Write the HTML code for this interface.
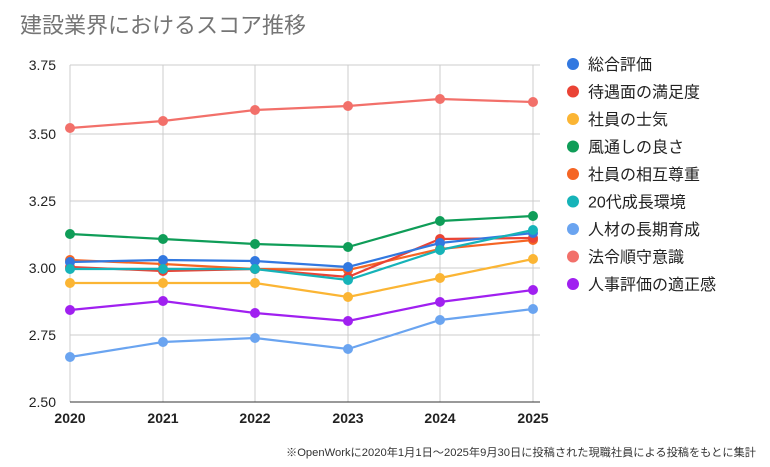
<!DOCTYPE html><html><head><meta charset="utf-8"><style>body{margin:0;background:#fff}svg{display:block}text{font-family:"Liberation Sans","Noto Sans CJK JP",sans-serif}</style></head><body>
<svg width="770" height="467" viewBox="0 0 770 467">
<text x="20" y="33" font-size="22" fill="#757575">建設業界におけるスコア推移</text>
<g stroke="#ccc" stroke-width="1">
<line x1="70" y1="65" x2="540" y2="65"/><line x1="70" y1="134" x2="540" y2="134"/><line x1="70" y1="201" x2="540" y2="201"/><line x1="70" y1="268" x2="540" y2="268"/><line x1="70" y1="335" x2="540" y2="335"/>
<line x1="70" y1="65" x2="70" y2="402"/><line x1="163" y1="65" x2="163" y2="402"/><line x1="255" y1="65" x2="255" y2="402"/><line x1="348" y1="65" x2="348" y2="402"/><line x1="440" y1="65" x2="440" y2="402"/><line x1="533" y1="65" x2="533" y2="402"/>
</g>
<line x1="70" y1="402" x2="540" y2="402" stroke="#333" stroke-width="1"/>
<g font-size="14" fill="#222" text-anchor="end"><text x="56" y="70">3.75</text><text x="56" y="139">3.50</text><text x="56" y="206">3.25</text><text x="56" y="273">3.00</text><text x="56" y="340">2.75</text><text x="56" y="407">2.50</text></g>
<g font-size="14" fill="#222" text-anchor="middle" font-weight="bold"><text x="70" y="423">2020</text><text x="163" y="423">2021</text><text x="255" y="423">2022</text><text x="348" y="423">2023</text><text x="440" y="423">2024</text><text x="533" y="423">2025</text></g>
<g fill="none" stroke-width="2.2">
<polyline stroke="#f2706a" points="70,128 163,121 255,110 348,106 440,99 533,102"/>
<polyline stroke="#6aa4f0" points="70,357 163,342 255,338 348,349 440,320 533,309"/>
<polyline stroke="#a020f0" points="70,310 163,301 255,313 348,321 440,302 533,290"/>
<polyline stroke="#fbb534" points="70,283 163,283 255,283 348,297 440,278 533,259"/>
<polyline stroke="#0f9d58" points="70,234 163,239 255,244 348,247 440,221 533,216"/>
<polyline stroke="#f56524" points="70,260 163,264 255,269 348,270 440,249 533,240"/>
<polyline stroke="#ea4335" points="70,267 163,271 255,269 348,277 440,239 533,238"/>
<polyline stroke="#3278e0" points="70,262 163,260 255,261 348,267 440,243 533,233"/>
<polyline stroke="#16b3b8" points="70,269 163,269 255,269 348,280 440,250 533,230"/>
</g>
<g fill="#f2706a"><circle cx="70" cy="128" r="5"/><circle cx="163" cy="121" r="5"/><circle cx="255" cy="110" r="5"/><circle cx="348" cy="106" r="5"/><circle cx="440" cy="99" r="5"/><circle cx="533" cy="102" r="5"/></g>
<g fill="#6aa4f0"><circle cx="70" cy="357" r="5"/><circle cx="163" cy="342" r="5"/><circle cx="255" cy="338" r="5"/><circle cx="348" cy="349" r="5"/><circle cx="440" cy="320" r="5"/><circle cx="533" cy="309" r="5"/></g>
<g fill="#a020f0"><circle cx="70" cy="310" r="5"/><circle cx="163" cy="301" r="5"/><circle cx="255" cy="313" r="5"/><circle cx="348" cy="321" r="5"/><circle cx="440" cy="302" r="5"/><circle cx="533" cy="290" r="5"/></g>
<g fill="#fbb534"><circle cx="70" cy="283" r="5"/><circle cx="163" cy="283" r="5"/><circle cx="255" cy="283" r="5"/><circle cx="348" cy="297" r="5"/><circle cx="440" cy="278" r="5"/><circle cx="533" cy="259" r="5"/></g>
<g fill="#0f9d58"><circle cx="70" cy="234" r="5"/><circle cx="163" cy="239" r="5"/><circle cx="255" cy="244" r="5"/><circle cx="348" cy="247" r="5"/><circle cx="440" cy="221" r="5"/><circle cx="533" cy="216" r="5"/></g>
<g fill="#f56524"><circle cx="70" cy="260" r="5"/><circle cx="163" cy="264" r="5"/><circle cx="255" cy="269" r="5"/><circle cx="348" cy="270" r="5"/><circle cx="440" cy="249" r="5"/><circle cx="533" cy="240" r="5"/></g>
<g fill="#ea4335"><circle cx="70" cy="267" r="5"/><circle cx="163" cy="271" r="5"/><circle cx="255" cy="269" r="5"/><circle cx="348" cy="277" r="5"/><circle cx="440" cy="239" r="5"/><circle cx="533" cy="238" r="5"/></g>
<g fill="#3278e0"><circle cx="70" cy="262" r="5"/><circle cx="163" cy="260" r="5"/><circle cx="255" cy="261" r="5"/><circle cx="348" cy="267" r="5"/><circle cx="440" cy="243" r="5"/><circle cx="533" cy="233" r="5"/></g>
<g fill="#16b3b8"><circle cx="70" cy="269" r="5"/><circle cx="163" cy="269" r="5"/><circle cx="255" cy="269" r="5"/><circle cx="348" cy="280" r="5"/><circle cx="440" cy="250" r="5"/><circle cx="533" cy="230" r="5"/></g>
<g font-size="16" fill="#222">
<circle cx="573" cy="64" r="6" fill="#3278e0"/><text x="588" y="70">総合評価</text>
<circle cx="573" cy="91.5" r="6" fill="#ea4335"/><text x="588" y="97.5">待遇面の満足度</text>
<circle cx="573" cy="119" r="6" fill="#fbb534"/><text x="588" y="125">社員の士気</text>
<circle cx="573" cy="146.5" r="6" fill="#0f9d58"/><text x="588" y="152.5">風通しの良さ</text>
<circle cx="573" cy="174" r="6" fill="#f56524"/><text x="588" y="180">社員の相互尊重</text>
<circle cx="573" cy="201.5" r="6" fill="#16b3b8"/><text x="588" y="207.5">20代成長環境</text>
<circle cx="573" cy="229" r="6" fill="#6aa4f0"/><text x="588" y="235">人材の長期育成</text>
<circle cx="573" cy="256.5" r="6" fill="#f2706a"/><text x="588" y="262.5">法令順守意識</text>
<circle cx="573" cy="284" r="6" fill="#a020f0"/><text x="588" y="290">人事評価の適正感</text>
</g>
<text x="756" y="456" font-size="11" fill="#333" text-anchor="end" textLength="470" lengthAdjust="spacingAndGlyphs">※OpenWorkに2020年1月1日〜2025年9月30日に投稿された現職社員による投稿をもとに集計</text>
</svg></body></html>
